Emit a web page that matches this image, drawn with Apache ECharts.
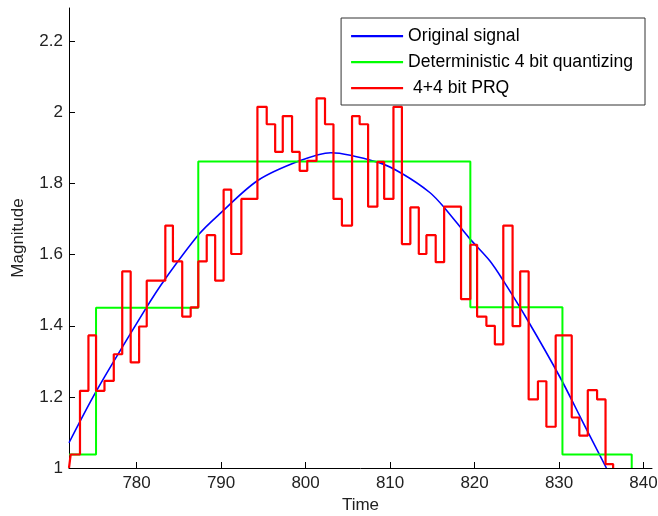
<!DOCTYPE html>
<html>
<head>
<meta charset="utf-8">
<script src="https://cdn.jsdelivr.net/npm/echarts@6/dist/echarts.min.js"></script>
<style>
html,body{margin:0;padding:0;background:#fff;}
#c{width:658px;height:516px;}
</style>
</head>
<body>
<div id="c"></div>
<script>
// Original signal
var blueT = [772, 775.2, 781.1, 783.3, 787.4, 789.8, 794.3, 799.3, 803.0, 808.7, 811.5, 814.7, 816.4, 819.4, 821.8, 823.4, 826.3, 830.1, 832.8, 835.6];
var blueV = [1.071, 1.215, 1.449, 1.529, 1.658, 1.714, 1.808, 1.864, 1.887, 1.859, 1.827, 1.775, 1.733, 1.646, 1.583, 1.527, 1.415, 1.256, 1.130, 1.0];

// Deterministic 4 bit quantizing (step starts)
var greenT = [772, 775.2, 787.3, 819.5, 830.4, 838.6];
var greenV = [1.038, 1.451, 1.862, 1.452, 1.038, 1.0];

// 4+4 bit PRQ (step starts)
var redT = [772, 772.2, 773.3, 774.3, 775.2, 776.2, 777.3, 778.3, 779.3, 780.3, 781.2, 783.4, 784.3, 785.4, 786.4, 787.3, 788.3, 789.3, 790.3, 791.2, 792.4, 794.3, 795.4, 796.4, 797.3, 798.4, 799.3, 800.2, 801.3, 802.3, 803.3, 804.3, 805.5, 806.4, 807.4, 808.5, 809.3, 810.4, 811.4, 812.4, 813.4, 814.3, 815.4, 816.4, 818.4, 819.5, 820.3, 821.4, 822.4, 823.4, 824.5, 825.4, 826.4, 827.5, 828.5, 829.6, 831.5, 832.4, 833.4, 834.5, 835.5, 836.4];
var redV = [1.0, 1.038, 1.217, 1.373, 1.217, 1.245, 1.32, 1.553, 1.297, 1.398, 1.527, 1.682, 1.581, 1.426, 1.452, 1.581, 1.655, 1.527, 1.783, 1.602, 1.757, 2.016, 1.967, 1.889, 1.990, 1.889, 1.836, 1.864, 2.040, 1.967, 1.757, 1.682, 1.990, 1.967, 1.735, 1.861, 1.757, 2.016, 1.630, 1.733, 1.602, 1.655, 1.579, 1.735, 1.475, 1.628, 1.426, 1.400, 1.348, 1.682, 1.399, 1.553, 1.193, 1.244, 1.116, 1.373, 1.142, 1.091, 1.219, 1.193, 1.011, 1.0];

var xTicks = [780, 790, 800, 810, 820, 830, 840];
var yTicks = [1, 1.2, 1.4, 1.6, 1.8, 2, 2.2];
var seriesNames = ['Original signal', 'Deterministic 4 bit quantizing', ' 4+4 bit PRQ'];

function pairs(t, v) { return t.map(function (x, i) { return [x, v[i]]; }); }

var FONT = 'Liberation Sans, Arial, sans-serif';
// thin horizontal bar centred in a 52x14 box (degenerate sub-paths fix the bounding box)
var LINE_ICON = 'path://M0,0L0,0Z M0,6L52,6L52,8.2L0,8.2Z M52,14L52,14Z';
var chart = echarts.init(document.getElementById('c'), null, {renderer: 'canvas'});
chart.setOption({
  backgroundColor: '#fff',
  animation: false,
  grid: {left: 69, right: 6, top: 8, bottom: 48, outerBoundsMode: 'none'},
  legend: {
    orient: 'vertical', right: 13, top: 18,
    data: seriesNames, icon: LINE_ICON,
    backgroundColor: '#fff', borderColor: '#333', borderWidth: 1, borderRadius: 0,
    padding: [9, 12, 8, 10], itemGap: 8, itemWidth: 52, itemHeight: 14,
    textStyle: {fontSize: 17.6, color: '#000', fontFamily: FONT}
  },
  xAxis: {
    type: 'value', min: 772, max: 841,
    name: 'Time', nameLocation: 'middle', nameGap: 27,
    nameTextStyle: {fontSize: 17, color: '#222', fontFamily: FONT},
    axisLine: {show: true, onZero: false, lineStyle: {color: '#000', width: 1}},
    axisTick: {show: true, inside: true, length: 6, customValues: xTicks, lineStyle: {color: '#000'}},
    axisLabel: {customValues: xTicks, fontSize: 17, color: '#222', fontFamily: FONT, margin: 7},
    splitLine: {show: false}
  },
  yAxis: {
    type: 'value', min: 1, max: 2.294,
    name: 'Magnitude', nameLocation: 'middle', nameGap: 42, nameRotate: 90,
    nameTextStyle: {fontSize: 17, color: '#222', fontFamily: FONT},
    axisLine: {show: true, onZero: false, lineStyle: {color: '#000', width: 1}},
    axisTick: {show: true, inside: true, length: 6, customValues: yTicks, lineStyle: {color: '#000'}},
    axisLabel: {customValues: yTicks, fontSize: 17, color: '#222', fontFamily: FONT, margin: 6},
    splitLine: {show: false}
  },
  series: [
    {name: seriesNames[0], type: 'line', data: pairs(blueT, blueV), smooth: 0.3, symbol: 'none',
     lineStyle: {color: '#0000ff', width: 1.6}, itemStyle: {color: '#0000ff'}},
    {name: seriesNames[1], type: 'line', data: pairs(greenT, greenV), step: 'end', symbol: 'none',
     lineStyle: {color: '#00ff00', width: 2}, itemStyle: {color: '#00ff00'}},
    {name: seriesNames[2], type: 'line', data: pairs(redT, redV), step: 'end', symbol: 'none',
     lineStyle: {color: '#ff0000', width: 2.2}, itemStyle: {color: '#ff0000'}}
  ]
});
</script>
</body>
</html>
